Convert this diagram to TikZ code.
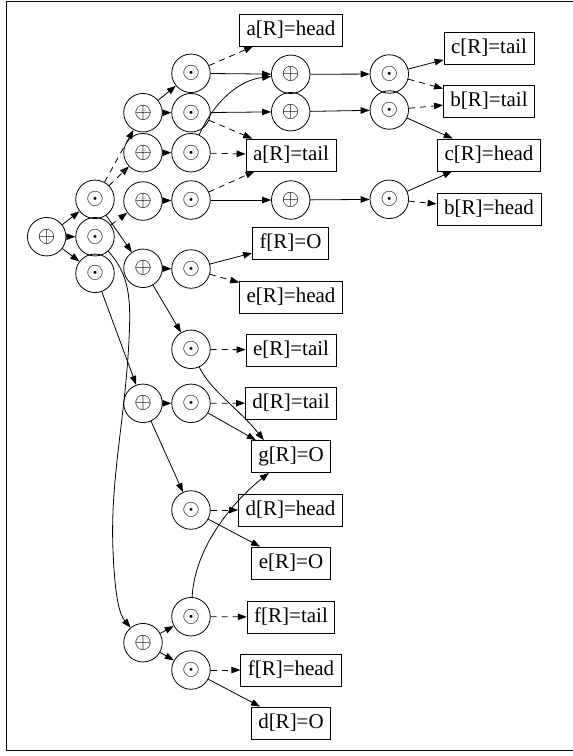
\documentclass[tikz,border=0pt]{standalone}
\usepackage{graphicx}
\usepackage{fontspec}
\setmainfont{Liberation Serif}
\usetikzlibrary{arrows.meta}
\newcommand{\opl}{\scalebox{1.3}{$\oplus$}}
\newcommand{\odt}{\scalebox{1.3}{$\odot$}}
\begin{document}
\begin{tikzpicture}[x=1pt,y=-1pt,line width=0.8pt,
  op/.style={circle,draw,minimum size=38.5pt,inner sep=0pt,font=\fontsize{19}{21}\selectfont},
  lab/.style={draw,rectangle,minimum height=32pt,inner xsep=7pt,inner ysep=0pt,font=\fontsize{21}{24}\selectfont},
  arr/.style={-{Triangle[length=9pt,width=6.5pt]}},
  darr/.style={arr,dash pattern=on 6pt off 5pt}]
\useasboundingbox (0,0) rectangle (573,756);
\draw (6.5,1.5) rectangle (575,750.5);
% operator nodes
\node[op] (P0) at (46.7,236.7) {\opl};
\node[op] (A1) at (95,199.3) {\odt};
\node[op] (A2) at (95,236.7) {\odt};
\node[op] (A3) at (95,273.3) {\odt};
\node[op] (B1) at (143,112.7) {\opl};
\node[op] (B2) at (143,152.7) {\opl};
\node[op] (B3) at (143,201) {\opl};
\node[op] (B4) at (143,268.3) {\opl};
\node[op] (B5) at (143,403.3) {\opl};
\node[op] (B6) at (143,642.7) {\opl};
\node[op] (C1) at (191,73.3) {\odt};
\node[op] (C2) at (191,112.7) {\odt};
\node[op] (C3) at (191,152.7) {\odt};
\node[op] (C4) at (191,200) {\odt};
\node[op] (C5) at (191,269) {\odt};
\node[op] (C6) at (191,349.3) {\odt};
\node[op] (C7) at (191,403.3) {\odt};
\node[op] (C8) at (191,510) {\odt};
\node[op] (C9) at (191,616.7) {\odt};
\node[op] (C10) at (191,670) {\odt};
\node[op] (D1) at (290.7,74.3) {\opl};
\node[op] (D2) at (290.7,111.7) {\opl};
\node[op] (D3) at (290.7,200) {\opl};
\node[op] (E1) at (389.3,74) {\odt};
\node[op] (E2) at (389.3,110) {\odt};
\node[op] (E3) at (389.3,199.3) {\odt};
% label nodes
\node[lab] (aH) at (291,30) {a[R]=head};
\node[lab] (aT) at (291,155) {a[R]=tail};
\node[lab] (cT) at (489,48) {c[R]=tail};
\node[lab] (bT) at (489,101) {b[R]=tail};
\node[lab] (cH) at (489,155) {c[R]=head};
\node[lab] (bH) at (489,209) {b[R]=head};
\node[lab] (fO) at (290.5,243) {f[R]=O};
\node[lab] (eH) at (291,297) {e[R]=head};
\node[lab] (eT) at (291,350) {e[R]=tail};
\node[lab] (dT) at (291,403) {d[R]=tail};
\node[lab] (gO) at (291,456.5) {g[R]=O};
\node[lab] (dH) at (290.5,510) {d[R]=head};
\node[lab] (eO) at (291,563) {e[R]=O};
\node[lab] (fT) at (291,617) {f[R]=tail};
\node[lab] (fH) at (291,670) {f[R]=head};
\node[lab] (dO) at (291,723) {d[R]=O};
% edges from root
\draw[arr] (P0) -- (A1);
\draw[arr] (P0) -- (A2);
\draw[arr] (P0) -- (A3);
\draw[darr] (A1) -- (B1);
\draw[darr] (A1) -- (B2);
\draw[darr] (A2) -- (B3);
\draw[arr] (A1) -- (B4);
\draw[arr] (A3) -- (B5);
\draw[arr] (A2) .. controls (130,275) and (131,300) .. (129,340)
  .. controls (125,420) and (110,480) .. (113,550)
  .. controls (115,600) and (120,615) .. (B6);
% column 2 -> 3
\draw[arr] (B1) -- (C1);
\draw[arr] (B1) -- (C2);
\draw[arr] (B2) -- (C3);
\draw[arr] (B3) -- (C4);
\draw[arr] (B4) -- (C5);
\draw[arr] (B4) -- (C6);
\draw[arr] (B5) -- (C7);
\draw[arr] (B5) -- (C8);
\draw[arr] (B6) -- (C9);
\draw[arr] (B6) -- (C10);
% upper part
\draw[darr] (C1) -- (aH);
\draw[arr] (C1) -- (D1);
\draw[arr] (C2) -- (D2);
\draw[darr] (C2) -- (aT);
\draw[darr] (C3) -- (aT);
\draw[arr] (C3) .. controls (215,100) and (240,80) .. (D1);
\draw[darr] (C4) -- (aT);
\draw[arr] (C4) -- (D3);
\draw[arr] (D1) -- (E1);
\draw[arr] (D2) -- (E2);
\draw[arr] (D3) -- (E3);
\draw[arr] (E1) -- (cT);
\draw[darr] (E1) -- (bT);
\draw[darr] (E2) -- (bT);
\draw[arr] (E2) -- (cH);
\draw[arr] (E3) -- (cH);
\draw[darr] (E3) -- (bH);
% lower part
\draw[arr] (C5) -- (fO);
\draw[darr] (C5) -- (eH);
\draw[darr] (C6) -- (eT);
\draw[arr] (C6) .. controls (210,390) and (240,410) .. ([xshift=13pt]gO.north west);
\draw[darr] (C7) -- (dT);
\draw[arr] (C7) -- ([xshift=5pt]gO.north west);
\draw[darr] (C8) -- (dH);
\draw[arr] (C8) -- (eO);
\draw[arr] (C9) .. controls (195,545) and (235,500) .. ([xshift=18pt]gO.south west);
\draw[darr] (C9) -- (fT);
\draw[darr] (C10) -- (fH);
\draw[arr] (C10) -- (dO);
\end{tikzpicture}
\end{document}
